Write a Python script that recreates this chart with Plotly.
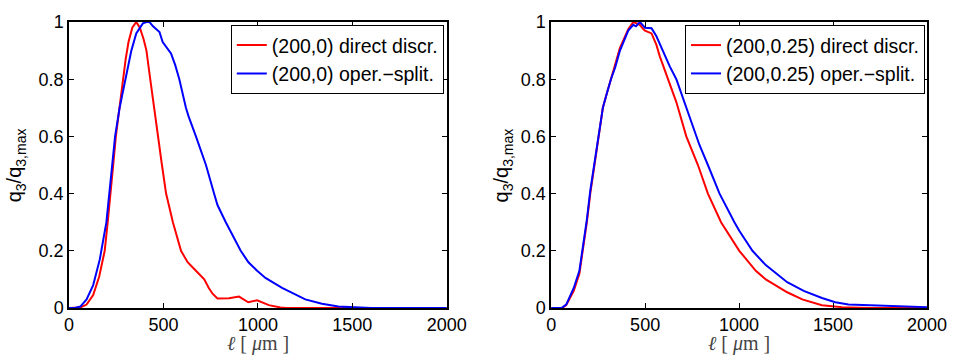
import plotly.graph_objects as go

# ---- data ----
l_red_x = [0, 40, 60, 93, 128, 160, 189, 205, 221, 234, 248, 266, 285, 300, 315, 335, 356, 375, 395, 410, 430, 450, 470, 492, 514, 550, 593, 628, 672, 716, 740, 760, 786, 847, 900, 949, 996, 1058, 1119, 1150, 1300, 1500, 2000]
l_red_y = [0, 0, 0.002, 0.012, 0.045, 0.11, 0.2, 0.3, 0.4, 0.5, 0.6, 0.7, 0.8, 0.87, 0.93, 0.98, 1.0, 0.98, 0.94, 0.9, 0.8, 0.7, 0.6, 0.5, 0.4, 0.3, 0.2, 0.16, 0.13, 0.1, 0.07, 0.05, 0.033, 0.034, 0.04, 0.02, 0.027, 0.01, 0.002, 0, 0, 0, 0]

l_blue_x = [0, 30, 60, 93, 128, 163, 198, 220, 244, 268, 298, 330, 356, 391, 410, 426, 445, 461, 479, 496, 518, 540, 562, 584, 619, 633, 672, 725, 768, 786, 830, 870, 909, 950, 996, 1040, 1128, 1251, 1339, 1426, 1500, 1600, 2000]
l_blue_y = [0, 0, 0.005, 0.03, 0.08, 0.17, 0.3, 0.45, 0.6, 0.7, 0.8, 0.9, 0.96, 0.995, 1.0, 1.0, 0.985, 0.975, 0.965, 0.93, 0.91, 0.89, 0.85, 0.8, 0.7, 0.67, 0.6, 0.5, 0.4, 0.36, 0.3, 0.25, 0.2, 0.16, 0.13, 0.105, 0.07, 0.03, 0.015, 0.005, 0.002, 0, 0]

r_red_x = [0, 58, 80, 120, 150, 169, 190, 208, 230, 252, 275, 296, 318, 340, 366, 410, 437, 455, 472, 490, 499, 534, 560, 578, 600, 622, 645, 666, 719, 781, 834, 904, 1001, 1089, 1142, 1256, 1336, 1441, 1547, 1700, 2000]
r_red_y = [0, 0, 0.01, 0.06, 0.12, 0.2, 0.3, 0.4, 0.5, 0.6, 0.7, 0.75, 0.8, 0.85, 0.91, 0.975, 1.0, 0.995, 0.99, 0.975, 0.97, 0.96, 0.92, 0.88, 0.84, 0.8, 0.76, 0.72, 0.6, 0.5, 0.4, 0.3, 0.2, 0.13, 0.1, 0.055, 0.03, 0.01, 0.003, 0, 0]

r_blue_x = [0, 55, 80, 120, 150, 169, 190, 208, 230, 252, 275, 296, 318, 340, 366, 410, 437, 451, 472, 499, 534, 560, 587, 610, 631, 666, 719, 772, 789, 834, 896, 975, 1001, 1071, 1142, 1256, 1344, 1441, 1512, 1582, 1800, 2000]
r_blue_y = [0, 0, 0.012, 0.07, 0.13, 0.21, 0.31, 0.41, 0.51, 0.61, 0.7, 0.75, 0.8, 0.84, 0.9, 0.97, 0.99, 0.985, 1.0, 0.98, 0.978, 0.95, 0.91, 0.87, 0.845, 0.8, 0.7, 0.6, 0.57, 0.5, 0.4, 0.3, 0.27, 0.2, 0.15, 0.09, 0.06, 0.035, 0.02, 0.012, 0.008, 0.003]

x_ticks = [0, 500, 1000, 1500, 2000]
y_ticks = [0, 0.2, 0.4, 0.6, 0.8, 1]

names_left = ["(200,0) direct discr.", "(200,0) oper.\u2212split."]
names_right = ["(200,0.25) direct discr.", "(200,0.25) oper.\u2212split."]

RED = "#ff0000"
BLUE = "#0000ff"

fig = go.Figure()
fig.add_trace(go.Scatter(x=l_red_x, y=l_red_y, mode="lines", name=names_left[0],
                         line=dict(color=RED, width=2), xaxis="x", yaxis="y", legend="legend"))
fig.add_trace(go.Scatter(x=l_blue_x, y=l_blue_y, mode="lines", name=names_left[1],
                         line=dict(color=BLUE, width=2), xaxis="x", yaxis="y", legend="legend"))
fig.add_trace(go.Scatter(x=r_red_x, y=r_red_y, mode="lines", name=names_right[0],
                         line=dict(color=RED, width=2), xaxis="x2", yaxis="y2", legend="legend2"))
fig.add_trace(go.Scatter(x=r_blue_x, y=r_blue_y, mode="lines", name=names_right[1],
                         line=dict(color=BLUE, width=2), xaxis="x2", yaxis="y2", legend="legend2"))

SANS = "Liberation Sans, Arial, sans-serif"
TICKFONT = dict(family=SANS, size=18, color="black")

axis_common = dict(showline=True, linecolor="black", linewidth=1.5, mirror="allticks",
                   ticks="inside", ticklen=5, tickwidth=1, tickcolor="black",
                   showgrid=False, zeroline=False, tickfont=TICKFONT)

W, H = 959, 356
L, R, T, B = 69, 27, 12, 48
pw = W - L - R
ph = H - T - B

def px_x(p):
    return (p - L) / pw

def px_y(p):
    return (H - B - p) / ph

legend_common = dict(xanchor="right", yanchor="top", bordercolor="black", borderwidth=1,
                     bgcolor="white", font=dict(family=SANS, size=19.5, color="black"),
                     itemwidth=30, tracegroupgap=0)

fig.update_layout(
    width=W, height=H,
    margin=dict(l=L, r=R, t=T, b=B),
    paper_bgcolor="white", plot_bgcolor="white",
    xaxis=dict(domain=[0, px_x(449)], range=[0, 2000], tickvals=x_ticks, anchor="y", **axis_common),
    yaxis=dict(domain=[0, 1], range=[0, 1], tickvals=y_ticks, anchor="x", **axis_common),
    xaxis2=dict(domain=[px_x(554), 1], range=[0, 2000], tickvals=x_ticks, anchor="y2", **axis_common),
    yaxis2=dict(domain=[0, 1], range=[0, 1], tickvals=y_ticks, anchor="x2", **axis_common),
    legend=dict(x=px_x(446), y=px_y(15), **legend_common),
    legend2=dict(x=px_x(930), y=px_y(15), **legend_common),
    showlegend=True,
)

ylab = "q<sub>3</sub>/q<sub>3,max</sub>"
xlab = "<i>\u2113</i> [ <i>\u03bc</i>m ]"
for xp in (15, 505):
    fig.add_annotation(text=ylab, x=px_x(xp), y=0.5, xref="paper", yref="paper",
                       xanchor="center", yanchor="middle", textangle=-90, showarrow=False,
                       font=dict(family=SANS, size=20, color="black"))
for xc in ((69 + 449) / 2, (554 + 932) / 2):
    fig.add_annotation(text=xlab, x=px_x(xc), y=px_y(345), xref="paper", yref="paper",
                       xanchor="center", yanchor="middle", showarrow=False,
                       font=dict(family="Liberation Serif, DejaVu Serif, serif", size=20, color="#444444"))

fig.write_html("out.html", config={"displayModeBar": False},
               post_script="document.body.style.margin='0px';document.body.style.overflow='hidden';")
